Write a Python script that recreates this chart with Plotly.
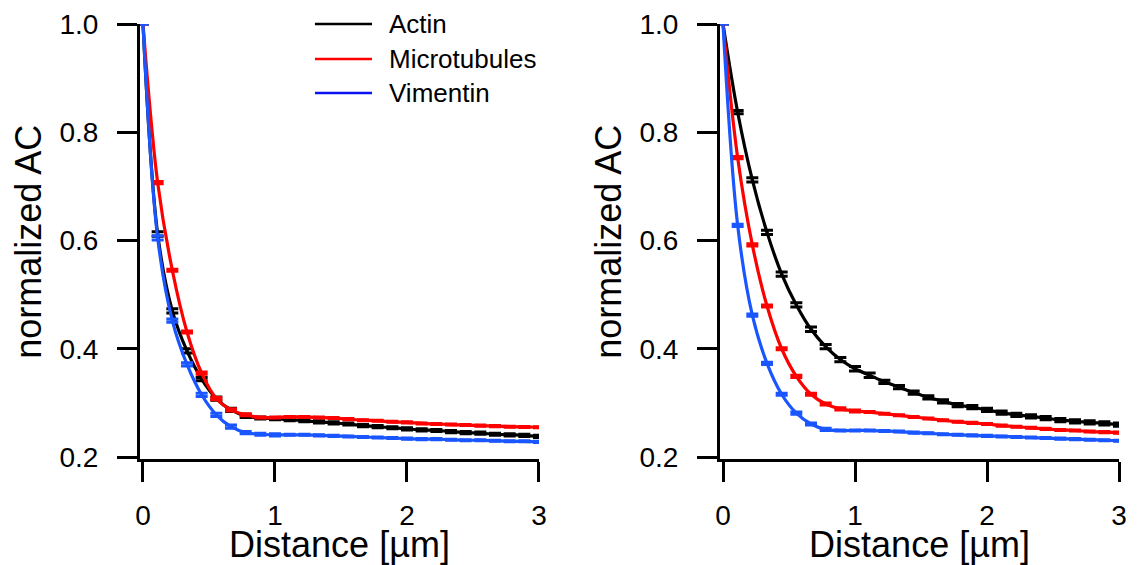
import plotly.graph_objects as go

# Sampling positions along the distance axis (µm)
distance = [k / 9 for k in range(28)]

# Left panel: normalized autocorrelation
left_actin = [1.0, 0.612, 0.470, 0.396, 0.344, 0.308, 0.287, 0.276, 0.272, 0.271,
              0.269, 0.267, 0.265, 0.263, 0.261, 0.258, 0.256, 0.254, 0.252, 0.250,
              0.249, 0.247, 0.245, 0.244, 0.242, 0.241, 0.240, 0.238]
left_micro = [1.0, 0.707, 0.545, 0.431, 0.355, 0.308, 0.287, 0.278, 0.273, 0.273,
              0.274, 0.274, 0.273, 0.272, 0.270, 0.268, 0.267, 0.265, 0.264, 0.262,
              0.261, 0.260, 0.259, 0.258, 0.257, 0.256, 0.2555, 0.255]
left_vim = [1.0, 0.605, 0.452, 0.371, 0.315, 0.278, 0.256, 0.245, 0.242, 0.241,
            0.241, 0.241, 0.240, 0.239, 0.238, 0.237, 0.236, 0.235, 0.234, 0.233,
            0.233, 0.232, 0.231, 0.231, 0.230, 0.229, 0.229, 0.228]

# Right panel: normalized autocorrelation
right_actin = [1.0, 0.837, 0.712, 0.615, 0.538, 0.481, 0.436, 0.404, 0.380, 0.363,
               0.351, 0.339, 0.329, 0.319, 0.310, 0.303, 0.296, 0.292, 0.287, 0.282,
               0.278, 0.275, 0.272, 0.268, 0.266, 0.264, 0.262, 0.260]
right_micro = [1.0, 0.753, 0.592, 0.479, 0.400, 0.349, 0.316, 0.298, 0.289, 0.285,
               0.283, 0.280, 0.277, 0.274, 0.271, 0.268, 0.265, 0.263, 0.261, 0.258,
               0.256, 0.254, 0.252, 0.250, 0.249, 0.247, 0.246, 0.245]
right_vim = [1.0, 0.628, 0.462, 0.373, 0.316, 0.281, 0.261, 0.251, 0.249, 0.249,
             0.249, 0.248, 0.247, 0.245, 0.244, 0.242, 0.241, 0.240, 0.239, 0.238,
             0.237, 0.236, 0.235, 0.234, 0.233, 0.232, 0.231, 0.230]

# Standard errors
left_actin_err = [0, .004, .004, .004, .003, .003, .003, .003, .002, .002,
                  .002, .002, .002, .002, .002, .002, .002, .002, .002, .002,
                  .002, .002, .002, .002, .002, .002, .002, .002]
left_micro_err = [0, .002, .002, .002, .002, .002, .002, .002, .001, .001,
                  .001, .001, .001, .001, .001, .001, .001, .001, .001, .001,
                  .001, .001, .001, .001, .001, .001, .001, .001]
left_vim_err = [0, .004, .003, .003, .003, .003, .003, .002, .002, .002,
                .001, .001, .001, .001, .001, .001, .001, .001, .001, .001,
                .001, .001, .001, .001, .001, .001, .001, .001]
right_actin_err = [0, .003, .004, .004, .004, .004, .004, .004, .004, .004,
                   .004, .003, .003, .003, .003, .003, .003, .003, .003, .003,
                   .003, .003, .003, .003, .003, .003, .003, .003]
right_micro_err = [0, .002, .002, .002, .002, .002, .002, .002, .002, .002,
                   .001, .001, .001, .001, .001, .001, .001, .001, .001, .001,
                   .001, .001, .001, .001, .001, .001, .001, .001]
right_vim_err = [0, .002, .002, .002, .002, .002, .002, .002, .001, .001,
                 .001, .001, .001, .001, .001, .001, .001, .001, .001, .001,
                 .001, .001, .001, .001, .001, .001, .001, .001]

series_names = ["Actin", "Microtubules", "Vimentin"]
line_colors = ["#000000", "#ff0000", "#1a56ff"]
legend_colors = ["#000000", "#ff0000", "#0a14f0"]

x_ticks = [0, 1, 2, 3]
y_ticks = [0.2, 0.4, 0.6, 0.8, 1.0]
y_tick_text = ["0.2", "0.4", "0.6", "0.8", "1.0"]

FONT = "Arial, 'Liberation Sans', sans-serif"

fig = go.Figure()

panels = [
    ("x", "y", [left_actin, left_micro, left_vim],
     [left_actin_err, left_micro_err, left_vim_err]),
    ("x2", "y2", [right_actin, right_micro, right_vim],
     [right_actin_err, right_micro_err, right_vim_err]),
]

for xa, ya, ys, errs in panels:
    for name, color, yv, ev in zip(series_names, line_colors, ys, errs):
        fig.add_trace(go.Scatter(
            x=distance, y=yv, name=name, mode="lines",
            line=dict(color=color, width=3.2, shape="spline", smoothing=1),
            error_y=dict(type="data", array=ev, visible=True,
                         color=color, thickness=3, width=6),
            xaxis=xa, yaxis=ya, showlegend=False, cliponaxis=False,
        ))

axis_common = dict(
    showline=True, linecolor="black", linewidth=3,
    ticks="outside", ticklen=20, tickwidth=3, tickcolor="black",
    showgrid=False, zeroline=False, automargin=False,
    tickfont=dict(family=FONT, size=28, color="black"),
)

xaxis_kw = dict(axis_common, range=[-0.0227, 3], tickvals=x_ticks,
                ticklabelstandoff=9,
                title=dict(text="Distance [µm]",
                           font=dict(family=FONT, size=36, color="black"),
                           standoff=12))
yaxis_kw = dict(axis_common, range=[0.1954, 1.0], tickvals=y_ticks,
                ticktext=y_tick_text, ticklabelstandoff=13,
                title=dict(text="normalized AC",
                           font=dict(family=FONT, size=36, color="black"),
                           standoff=7))

fig.update_layout(
    template="none",
    width=1137, height=565, autosize=False,
    margin=dict(l=0, r=0, t=0, b=0, pad=0),
    paper_bgcolor="white", plot_bgcolor="white",
    showlegend=False,
    xaxis=dict(xaxis_kw, domain=[0.12313, 0.47405], anchor="y"),
    yaxis=dict(yaxis_kw, domain=[0.18673, 0.95752], anchor="x"),
    xaxis2=dict(xaxis_kw, domain=[0.63325, 0.98417], anchor="y2"),
    yaxis2=dict(yaxis_kw, domain=[0.18673, 0.95752], anchor="x2"),
)

# Legend drawn as line samples with labels in the left panel
legend_rows_y = [0.9575, 0.8956, 0.8354]
for name, color, ly in zip(series_names, legend_colors, legend_rows_y):
    fig.add_shape(type="line", xref="paper", yref="paper",
                  x0=0.2770, x1=0.3272, y0=ly, y1=ly,
                  line=dict(color=color, width=2.5))
    fig.add_annotation(xref="paper", yref="paper", x=0.3404, y=ly,
                       text=name, showarrow=False, xanchor="left",
                       yanchor="middle",
                       font=dict(family=FONT, size=26, color="black"))

fig.write_html("out.html")
